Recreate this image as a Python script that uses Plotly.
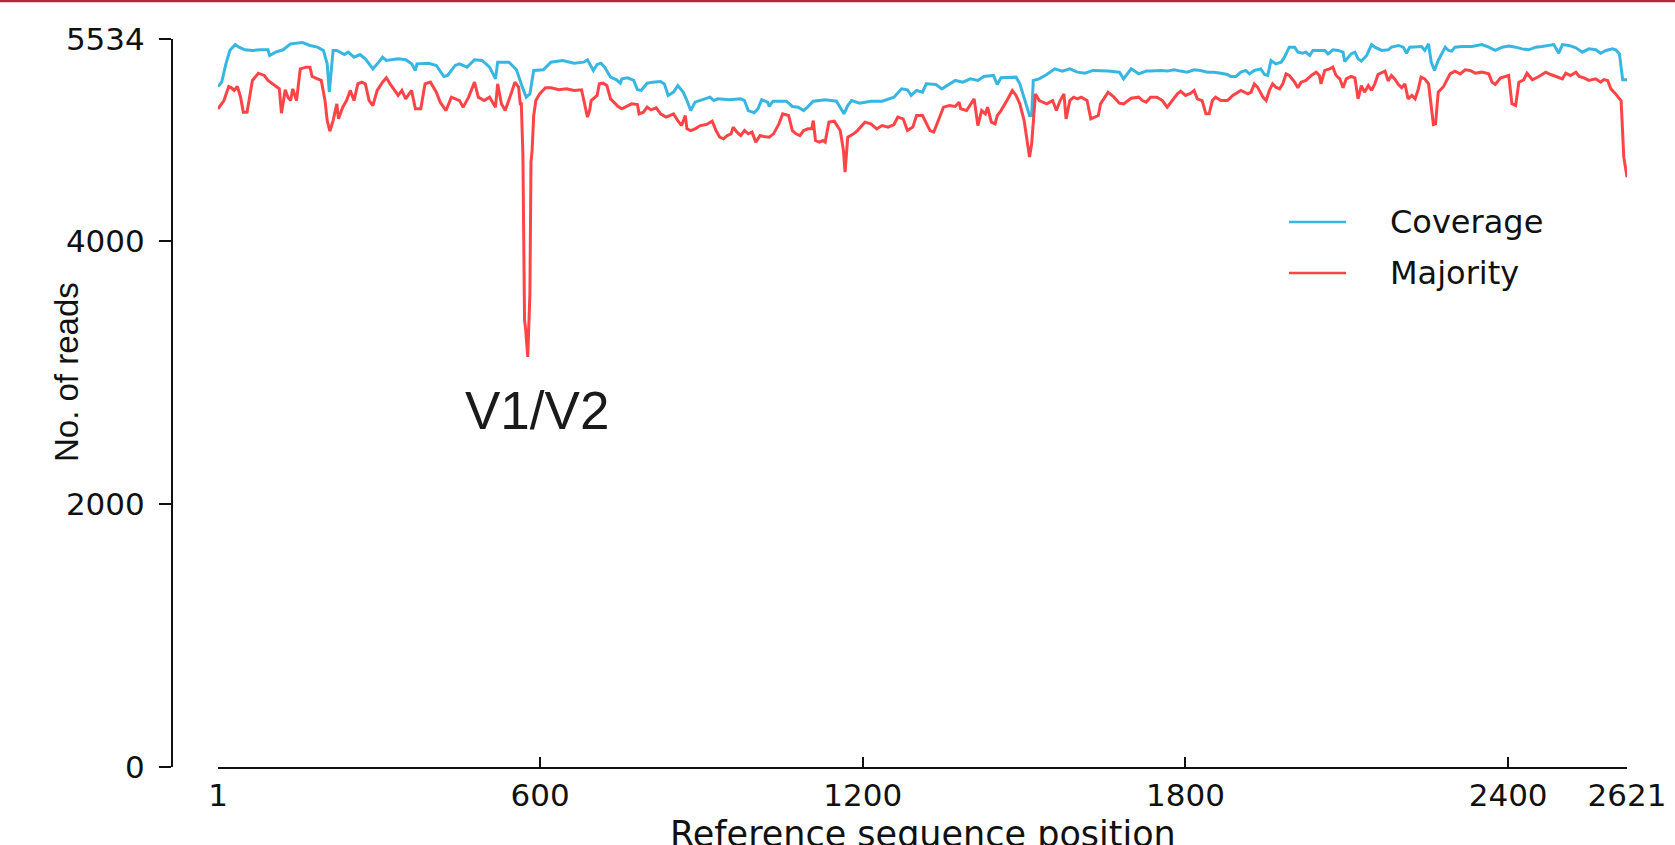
import plotly.graph_objects as go

# ---------------- data ----------------
cov_pos = [1, 8, 15, 23, 33, 40, 51, 65, 80, 94, 97, 108, 122, 136, 158, 172, 186, 197, 204, 208,
           215, 222, 236, 243, 254, 265, 275, 289, 300, 307, 314, 336, 350, 361, 368, 371, 393, 407,
           421, 428, 442, 450, 464, 478, 492, 506, 517, 521, 542, 556, 567, 574, 581, 588, 606, 620,
           642, 663, 681, 688, 699, 706, 713, 720, 731, 742, 749, 752, 763, 774, 781, 788, 799, 809,
           824, 831, 838, 848, 856, 866, 873, 880, 888, 902, 916, 923, 930, 952, 973, 980, 987, 998,
           1005, 1012, 1023, 1026, 1033, 1058, 1069, 1080, 1090, 1097, 1108, 1130, 1151, 1165, 1172,
           1179, 1194, 1215, 1236, 1258, 1272, 1283, 1290, 1300, 1311, 1318, 1336, 1347, 1357, 1372,
           1386, 1400, 1414, 1425, 1443, 1450, 1457, 1471, 1485, 1492, 1500, 1510, 1514, 1517, 1528,
           1542, 1557, 1571, 1585, 1599, 1613, 1628, 1656, 1677, 1685, 1699, 1713, 1727, 1735, 1754,
           1766, 1779, 1791, 1803, 1816, 1828, 1841, 1853, 1866, 1878, 1884, 1894, 1903, 1912, 1919,
           1928, 1940, 1947, 1953, 1959, 1968, 1978, 1984, 1993, 2003, 2009, 2018, 2024, 2031, 2037,
           2046, 2059, 2065, 2074, 2084, 2093, 2096, 2102, 2108, 2115, 2121, 2127, 2137, 2146, 2152,
           2165, 2177, 2183, 2196, 2205, 2211, 2217, 2233, 2239, 2245, 2252, 2257, 2263, 2270, 2283,
           2289, 2295, 2301, 2314, 2333, 2351, 2364, 2376, 2389, 2401, 2414, 2426, 2438, 2451, 2463,
           2476, 2485, 2494, 2501, 2513, 2526, 2538, 2550, 2563, 2572, 2582, 2594, 2600, 2607, 2610,
           2613, 2621]
cov_val = [5173, 5206, 5333, 5447, 5492, 5472, 5452, 5447, 5452, 5452, 5409, 5434, 5452, 5497, 5507,
           5485, 5472, 5447, 5345, 5130, 5447, 5447, 5416, 5434, 5396, 5416, 5383, 5307, 5358, 5396,
           5371, 5383, 5376, 5345, 5295, 5345, 5350, 5333, 5249, 5257, 5333, 5345, 5320, 5376, 5371,
           5320, 5231, 5358, 5358, 5300, 5168, 5092, 5117, 5295, 5300, 5358, 5371, 5350, 5358, 5376,
           5295, 5341, 5350, 5320, 5244, 5224, 5198, 5231, 5239, 5219, 5148, 5143, 5198, 5206, 5211,
           5193, 5105, 5130, 5180, 5130, 5066, 4990, 5054, 5072, 5092, 5066, 5079, 5072, 5079, 5066,
           4990, 4973, 5003, 5072, 5054, 5021, 5061, 5061, 5021, 5016, 4990, 5016, 5061, 5072, 5061,
           4965, 5028, 5066, 5046, 5061, 5061, 5092, 5155, 5148, 5105, 5143, 5130, 5193, 5188, 5155,
           5180, 5219, 5206, 5231, 5219, 5249, 5257, 5188, 5239, 5244, 5244, 5193, 5092, 4952, 4952,
           5219, 5231, 5264, 5307, 5290, 5307, 5282, 5274, 5295, 5290, 5282, 5231, 5307, 5269, 5290,
           5290, 5295, 5290, 5300, 5290, 5282, 5300, 5295, 5282, 5282, 5274, 5264, 5249, 5249, 5282,
           5295, 5269, 5295, 5307, 5264, 5257, 5371, 5345, 5358, 5396, 5472, 5472, 5434, 5426, 5434,
           5409, 5447, 5447, 5447, 5421, 5452, 5447, 5434, 5363, 5396, 5421, 5434, 5383, 5366, 5409,
           5492, 5472, 5447, 5452, 5472, 5485, 5472, 5426, 5472, 5472, 5477, 5447, 5497, 5358, 5295,
           5371, 5472, 5447, 5442, 5472, 5477, 5477, 5492, 5472, 5447, 5472, 5480, 5472, 5459, 5452,
           5472, 5477, 5485, 5492, 5426, 5492, 5485, 5467, 5434, 5459, 5452, 5426, 5447, 5459, 5452,
           5421, 5320, 5224, 5224]

maj_pos = [1, 12, 21, 26, 31, 37, 43, 48, 55, 60, 65, 76, 87, 94, 108, 115, 119, 126, 131, 136, 140,
           147, 154, 165, 172, 176, 186, 193, 200, 204, 209, 215, 222, 225, 233, 240, 247, 254, 261,
           268, 275, 282, 289, 297, 307, 314, 321, 329, 336, 343, 350, 361, 368, 378, 386, 396, 407,
           414, 425, 435, 450, 457, 467, 478, 485, 496, 506, 517, 521, 528, 535, 546, 553, 560, 563,
           565, 568, 571, 573, 577, 581, 583, 585, 588, 592, 599, 610, 620, 635, 649, 663, 677, 681,
           688, 692, 695, 706, 710, 717, 724, 731, 745, 752, 760, 770, 781, 784, 792, 799, 806, 816,
           824, 834, 841, 848, 856, 863, 870, 873, 880, 888, 898, 909, 920, 927, 934, 941, 948, 955,
           959, 966, 973, 980, 987, 994, 1001, 1009, 1016, 1026, 1034, 1044, 1051, 1062, 1069, 1076,
           1083, 1090, 1098, 1105, 1108, 1112, 1119, 1126, 1130, 1137, 1147, 1158, 1164, 1167, 1172,
           1183, 1190, 1204, 1215, 1226, 1236, 1247, 1258, 1265, 1275, 1283, 1293, 1300, 1311, 1318,
           1325, 1332, 1339, 1350, 1361, 1372, 1379, 1382, 1393, 1407, 1414, 1421, 1428, 1432, 1439,
           1446, 1450, 1457, 1468, 1478, 1485, 1492, 1500, 1507, 1510, 1514, 1521, 1528, 1535, 1542,
           1553, 1560, 1567, 1574, 1578, 1585, 1592, 1599, 1606, 1617, 1624, 1631, 1638, 1642, 1656,
           1667, 1677, 1685, 1692, 1699, 1713, 1720, 1727, 1735, 1747, 1757, 1766, 1775, 1785, 1791,
           1800, 1810, 1816, 1822, 1831, 1838, 1844, 1850, 1856, 1866, 1878, 1888, 1897, 1903, 1916,
           1922, 1928, 1934, 1944, 1950, 1956, 1962, 1968, 1975, 1981, 1987, 1993, 2003, 2009, 2015,
           2024, 2034, 2043, 2049, 2052, 2059, 2068, 2074, 2080, 2087, 2093, 2099, 2108, 2115, 2121,
           2127, 2133, 2140, 2146, 2152, 2158, 2171, 2177, 2183, 2189, 2196, 2202, 2208, 2214, 2221,
           2227, 2233, 2238, 2245, 2252, 2257, 2261, 2265, 2270, 2280, 2286, 2292, 2301, 2311, 2320,
           2329, 2339, 2351, 2364, 2370, 2376, 2386, 2395, 2401, 2407, 2414, 2420, 2429, 2435, 2445,
           2457, 2470, 2479, 2491, 2501, 2507, 2516, 2526, 2532, 2541, 2550, 2563, 2572, 2578, 2585,
           2591, 2600, 2607, 2610, 2613, 2615, 2621]
maj_val = [5003, 5066, 5173, 5163, 5143, 5173, 5092, 4978, 4978, 5105, 5219, 5274, 5257, 5219, 5180,
           5155, 4970, 5148, 5092, 5066, 5155, 5066, 5307, 5320, 5320, 5249, 5231, 5219, 5066, 4914,
           4833, 4914, 5041, 4927, 5016, 5066, 5143, 5066, 5193, 5206, 5193, 5066, 5028, 5143, 5206,
           5239, 5193, 5143, 5105, 5143, 5079, 5143, 5003, 5003, 5193, 5206, 5130, 5054, 4990, 5092,
           5066, 5016, 5092, 5206, 5092, 5066, 5092, 5016, 5193, 5041, 4990, 5117, 5206, 5168, 5041,
           5041, 4650, 3400, 3330, 3117, 3600, 4600, 4680, 4950, 5066, 5117, 5163, 5163, 5148, 5155,
           5143, 5148, 5066, 4940, 4990, 5066, 5105, 5193, 5198, 5180, 5079, 5021, 5003, 5021, 5041,
           5036, 4965, 4978, 5016, 4995, 5011, 4965, 4940, 4952, 4965, 4914, 4876, 4952, 4851, 4838,
           4851, 4876, 4884, 4909, 4838, 4788, 4775, 4800, 4813, 4864, 4826, 4800, 4838, 4813, 4826,
           4750, 4800, 4793, 4788, 4813, 4889, 4965, 4952, 4838, 4813, 4800, 4838, 4851, 4851, 4914,
           4762, 4750, 4762, 4750, 4902, 4909, 4838, 4686, 4522, 4788, 4813, 4838, 4902, 4889, 4851,
           4876, 4864, 4884, 4940, 4927, 4838, 4864, 4952, 4952, 4889, 4838, 4826, 4902, 5016, 5028,
           5021, 5054, 5003, 4990, 5079, 4876, 4990, 4965, 5016, 4902, 4889, 4952, 4990, 5066, 5143,
           5105, 5041, 4914, 4737, 4636, 4737, 5117, 5066, 5054, 5041, 5066, 4990, 5066, 5117, 4927,
           5066, 5092, 5079, 5092, 5066, 4927, 4940, 4952, 5041, 5130, 5092, 5046, 5041, 5066, 5084,
           5092, 5066, 5054, 5092, 5092, 5066, 5016, 5066, 5117, 5137, 5105, 5122, 5143, 5079, 5066,
           4965, 4965, 5066, 5092, 5066, 5066, 5105, 5130, 5143, 5117, 5130, 5193, 5168, 5092, 5066,
           5143, 5193, 5168, 5155, 5193, 5269, 5257, 5206, 5163, 5206, 5219, 5257, 5282, 5257, 5193,
           5295, 5307, 5320, 5257, 5231, 5163, 5231, 5249, 5239, 5079, 5180, 5130, 5180, 5143, 5193,
           5264, 5290, 5214, 5257, 5231, 5188, 5163, 5193, 5079, 5105, 5079, 5155, 5244, 5231, 5193,
           4990, 4884, 4889, 5130, 5173, 5219, 5269, 5290, 5269, 5300, 5295, 5274, 5282, 5269, 5206,
           5188, 5239, 5249, 5257, 5041, 5028, 5206, 5224, 5274, 5224, 5249, 5282, 5264, 5249, 5231,
           5274, 5257, 5282, 5249, 5239, 5219, 5231, 5206, 5226, 5219, 5155, 5117, 5079, 5066, 4813,
           4636, 4484]

x_tick_vals = [1, 600, 1200, 1800, 2400, 2621]
x_tick_text = ["1", "600", "1200", "1800", "2400", "2621"]
x_mark_vals = [600, 1200, 1800, 2400]
y_tick_vals = [0, 2000, 4000, 5534]
y_tick_text = ["0", "2000", "4000", "5534"]
series_names = ["Coverage", "Majority"]
series_colors = ["#38B6E2", "#FF4448"]
x_range = [1, 2621]
y_range = [0, 5534]
note_text = "V1/V2"
note_pos = [594, 2710]

# ---------------- figure ----------------
W, H = 1675, 845
ML, MR, MT, MB = 172, 48, 39, 78
PW = W - ML - MR
PH = H - MT - MB


def px(xp):
    return (xp - ML) / PW


def py(yp):
    return (H - MB - yp) / PH


fig = go.Figure()
fig.add_trace(go.Scatter(x=cov_pos, y=cov_val, mode="lines", name=series_names[0],
                         line=dict(color=series_colors[0], width=3), showlegend=False,
                         xaxis="x", yaxis="y"))
fig.add_trace(go.Scatter(x=maj_pos, y=maj_val, mode="lines", name=series_names[1],
                         line=dict(color=series_colors[1], width=3), showlegend=False,
                         xaxis="x2", yaxis="y"))

tick_font = dict(family="DejaVu Sans", size=31, color="#111111")

fig.update_layout(
    width=W, height=H,
    margin=dict(l=ML, r=MR, t=MT, b=MB, autoexpand=False),
    paper_bgcolor="white", plot_bgcolor="white",
    xaxis=dict(domain=[px(218), 1], range=x_range, showgrid=False, zeroline=False,
               showline=True, linecolor="#111111", linewidth=2,
               tickmode="array", tickvals=x_tick_vals, ticktext=x_tick_text,
               ticks="", tickfont=tick_font, anchor="y"),
    xaxis2=dict(overlaying="x", matches="x", range=x_range, showgrid=False, zeroline=False,
                showline=False, tickmode="array", tickvals=x_mark_vals,
                ticks="inside", ticklen=10, tickwidth=2, tickcolor="#111111",
                showticklabels=False, anchor="y", side="bottom"),
    yaxis=dict(range=y_range, anchor="free", position=0, showgrid=False, zeroline=False,
               showline=True, linecolor="#111111", linewidth=2,
               tickmode="array", tickvals=y_tick_vals, ticktext=y_tick_text,
               ticks="outside", ticklen=12, tickwidth=2, tickcolor="#111111",
               ticklabelstandoff=8, tickfont=tick_font),
)

shapes = [
    dict(type="line", xref="paper", yref="paper", x0=px(0), x1=px(W), y0=py(1), y1=py(1),
         line=dict(color="#B3263C", width=2.5)),
]
annotations = []
legend_line_y = [222, 273]
for name, col, ly in zip(series_names, series_colors, legend_line_y):
    shapes.append(dict(type="line", xref="paper", yref="paper", x0=px(1289), x1=px(1346),
                       y0=py(ly), y1=py(ly), line=dict(color=col, width=2.5)))
    annotations.append(dict(text=name, xref="paper", yref="paper", x=px(1388), y=py(ly),
                            xanchor="left", yanchor="middle", showarrow=False,
                            font=dict(family="DejaVu Sans", size=32, color="#111111")))

annotations.append(dict(text=note_text, xref="x", yref="y", x=note_pos[0], y=note_pos[1],
                        xanchor="center", yanchor="middle", showarrow=False,
                        font=dict(family="Liberation Sans", size=53, color="#1a1a1a")))
annotations.append(dict(text="No. of reads", xref="paper", yref="paper", x=px(66), y=py(372),
                        xanchor="center", yanchor="middle", textangle=-90, showarrow=False,
                        font=dict(family="Liberation Sans", size=33, color="#111111")))
annotations.append(dict(text="Reference sequence position", xref="paper", yref="paper",
                        x=px(923), y=py(834), xanchor="center", yanchor="middle",
                        showarrow=False,
                        font=dict(family="DejaVu Sans", size=35, color="#111111")))

fig.update_layout(shapes=shapes, annotations=annotations)
fig.write_html("out.html", config={"displayModeBar": False},
               post_script="document.body.style.margin='0px';document.body.style.overflow='hidden';")
